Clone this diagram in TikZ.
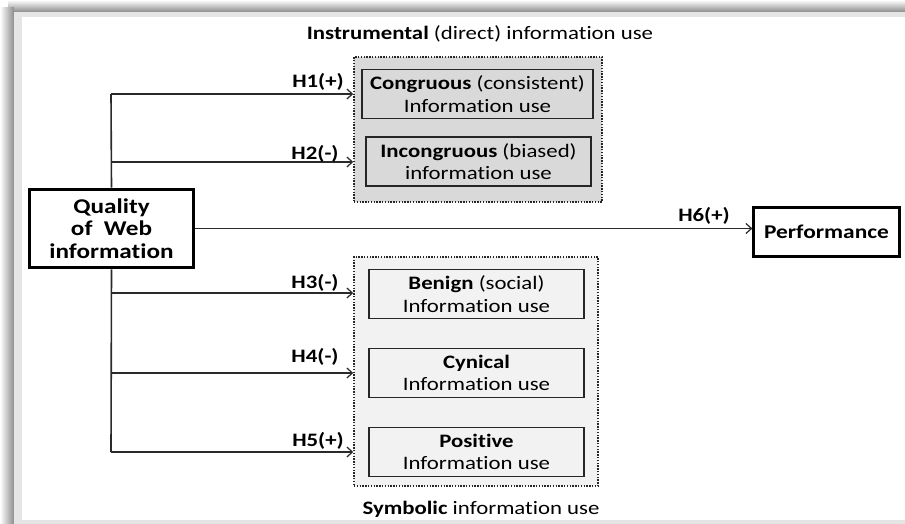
\documentclass[tikz,border=0pt]{standalone}
\usepackage{fontspec}
\setmainfont[FakeStretch=1.2,Ligatures=NoCommon]{Carlito}
\usetikzlibrary{arrows.meta}
\definecolor{grpdark}{HTML}{D9D9D9}
\definecolor{grplight}{HTML}{F2F2F2}
\definecolor{lncol}{HTML}{2A2A2A}
\tikzset{
  txt/.style={font=\fontsize{19}{22.5}\selectfont, text=black, align=center, inner sep=0pt},
  qbox/.style={txt, draw=black, line width=3.8pt, fill=white, minimum width=164pt, minimum height=78pt, font=\fontsize{21}{22.5}\selectfont\bfseries},
  pbox/.style={txt, draw=black, line width=2.3pt, fill=white, minimum width=146pt, minimum height=49pt, font=\fontsize{19.5}{22.5}\selectfont\bfseries},
  ibox/.style={txt, draw=black!85, line width=1.3pt, minimum height=49pt},
  grp/.style={draw=black!85, line width=1.5pt, dash pattern=on 1.4pt off 1.4pt, inner sep=0pt},
  lab/.style={txt, font=\fontsize{19}{22.5}\selectfont\bfseries},
  ln/.style={draw=lncol, line width=1.6pt},
  arr/.style={draw=lncol, line width=1.2pt, -{Straight Barb[length=5.5pt,width=10pt,line width=1.2pt]}},
}
\begin{document}
\begin{tikzpicture}[x=1pt,y=-1pt]
\useasboundingbox (0,0) rectangle (905,524);
% frame
\fill[white] (0,0) rectangle (905,524);
\shade[top color=white, bottom color=black!45] (8,0) rectangle (905,12);
\shade[left color=white, right color=black!45] (0,8) rectangle (14,524);
\fill[black!10] (14,12) rectangle (905,524);
\fill[white] (22,17) rectangle (905,520);
% groups
\node[grp, fill=grpdark, minimum width=248pt, minimum height=145pt] (top) at (478,129.5) {};
\node[grp, fill=grplight, minimum width=244pt, minimum height=229pt] (bot) at (476,371.5) {};
% inner boxes
\node[ibox, fill=grpdark, minimum width=231pt] (cong) at (477.5,94) {\textbf{Congruous} (consistent)\\Information use};
\node[ibox, fill=grpdark, minimum width=225pt] (incong) at (478.5,161.5) {\textbf{Incongruous} (biased)\\information use};
\node[ibox, fill=grplight, minimum width=215pt] (benign) at (476.5,294) {\textbf{Benign} (social)\\Information use};
\node[ibox, fill=grplight, minimum width=215pt] (cyn) at (476.5,373) {\textbf{Cynical}\\Information use};
\node[ibox, fill=grplight, minimum width=215pt] (pos) at (476.5,452) {\textbf{Positive}\\Information use};
% main nodes
\node[qbox] (q) at (111.5,228.5) {Quality\\of~~Web\\information};
\node[pbox] (perf) at (826.5,232) {Performance};
% titles
\node[txt] (t1) at (480,34) {\textbf{Instrumental} (direct) information use};
\node[txt] (t2) at (481,509) {\textbf{Symbolic} information use};
% connectors
\coordinate (j1) at (111,94);
\coordinate (j2) at (111,162);
\coordinate (j3) at (111,293);
\coordinate (j4) at (111,373);
\coordinate (j5) at (111,452);
\draw[ln] (q.north) -- (j1);
\draw[ln] (q.south) -- (j5);
\draw[arr] (j1) -- (j1 -| top.west);
\draw[arr] (j2) -- (j2 -| top.west);
\draw[arr] (j3) -- (j3 -| bot.west);
\draw[arr] (j4) -- (j4 -| bot.west);
\draw[arr] (j5) -- (j5 -| bot.west);
\draw[arr] (q.east) -- (q.east -| perf.west);
% labels
\node[lab] (l1) at (318,82) {H1(+)};
\node[lab] (l2) at (315,154) {H2(-)};
\node[lab] (l3) at (315,283) {H3(-)};
\node[lab] (l4) at (315,357) {H4(-)};
\node[lab] (l5) at (318,441) {H5(+)};
\node[lab] (l6) at (704,216) {H6(+)};
\end{tikzpicture}
\end{document}
